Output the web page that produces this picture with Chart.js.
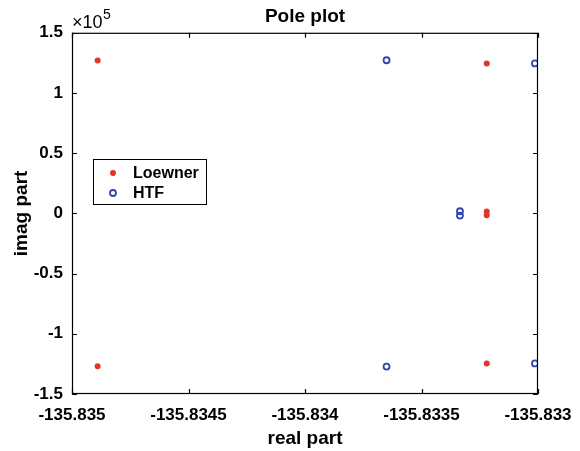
<!DOCTYPE html>
<html lang="en">
<head>
  <meta charset="UTF-8">
  <title>Pole plot</title>
  <script src="https://cdn.jsdelivr.net/npm/chart.js"></script>
  <style>
    body { margin: 0; background: #fff; }
    #wrap { width: 580px; height: 451px; }
  </style>
</head>
<body>
  <div id="wrap"><canvas id="poleChart" width="580" height="451"></canvas></div>
  <script>
    // pole locations
    const loewnerReal = [-135.83489, -135.83489, -135.83322, -135.83322, -135.83322, -135.83322];
    const loewnerImag = [126900, -126900, 124600, -124600, 1600, -1600];
    const htfReal = [-135.83365, -135.83365, -135.833013, -135.833013, -135.833335, -135.833335];
    const htfImag = [127200, -127200, 124600, -124600, 1800, -1800];

    const xTickVals = [-135.835, -135.8345, -135.834, -135.8335, -135.833];
    const xTickLabels = ['-135.835', '-135.8345', '-135.834', '-135.8335', '-135.833'];
    const yTickVals = [150000, 100000, 50000, 0, -50000, -100000, -150000];
    const yTickLabels = ['1.5', '1', '0.5', '0', '-0.5', '-1', '-1.5'];

    const RED = '#e2342b';
    const BLUE = '#2f45b0';
    const FONT = 'Liberation Sans, Arial, sans-serif';

    const toPoints = (xs, ys) => xs.map((x, i) => ({ x: x, y: ys[i] }));

    // box, inward ticks, exponent label and legend, MATLAB style
    const matlabFrame = {
      id: 'matlabFrame',
      afterDraw(chart) {
        const c = chart.ctx;
        const a = chart.chartArea;
        const xs = chart.scales.x, ys = chart.scales.y;
        c.save();
        c.strokeStyle = '#000';
        c.lineWidth = 1.2;
        c.strokeRect(a.left + 0.5, a.top + 0.5, a.right - a.left - 1, a.bottom - a.top - 1);
        c.beginPath();
        xTickVals.forEach(v => {
          const px = Math.round(xs.getPixelForValue(v)) + 0.5;
          c.moveTo(px, a.bottom); c.lineTo(px, a.bottom - 5);
          c.moveTo(px, a.top); c.lineTo(px, a.top + 5);
        });
        yTickVals.forEach(v => {
          const py = Math.round(ys.getPixelForValue(v)) + 0.5;
          c.moveTo(a.left, py); c.lineTo(a.left + 5, py);
          c.moveTo(a.right, py); c.lineTo(a.right - 5, py);
        });
        c.stroke();

        // x10^5
        c.fillStyle = '#000';
        c.textBaseline = 'alphabetic';
        c.textAlign = 'left';
        c.font = '18px ' + FONT;
        c.fillText('\u00d710', a.left, 28);
        c.font = '14px ' + FONT;
        c.fillText('5', a.left + 31, 19);

        // legend
        const lx = 93, ly = 159, lw = 113, lh = 45;
        c.fillStyle = '#fff';
        c.fillRect(lx, ly, lw, lh);
        c.lineWidth = 1;
        c.strokeRect(lx + 0.5, ly + 0.5, lw, lh);
        const rows = [
          { label: chart.data.datasets[0].label, y: ly + 14 },
          { label: chart.data.datasets[1].label, y: ly + 34 }
        ];
        c.fillStyle = RED;
        c.beginPath(); c.arc(113, rows[0].y, 3, 0, Math.PI * 2); c.fill();
        c.strokeStyle = BLUE; c.lineWidth = 1.8;
        c.beginPath(); c.arc(113, rows[1].y, 3, 0, Math.PI * 2); c.stroke();
        c.fillStyle = '#000';
        c.font = 'bold 16px ' + FONT;
        c.textBaseline = 'middle';
        rows.forEach(r => c.fillText(r.label, 133, r.y + 1));
        c.restore();
      }
    };

    new Chart(document.getElementById('poleChart'), {
      type: 'scatter',
      data: {
        datasets: [
          {
            label: 'Loewner',
            data: toPoints(loewnerReal, loewnerImag),
            pointStyle: 'circle',
            pointRadius: 3,
            backgroundColor: RED,
            borderColor: RED,
            borderWidth: 0
          },
          {
            label: 'HTF',
            data: toPoints(htfReal, htfImag),
            pointStyle: 'circle',
            pointRadius: 3,
            backgroundColor: 'rgba(0,0,0,0)',
            borderColor: BLUE,
            borderWidth: 1.8
          }
        ]
      },
      options: {
        responsive: false,
        animation: false,
        layout: { padding: { left: 0, right: 42, top: 0, bottom: 0 } },
        plugins: {
          legend: { display: false },
          tooltip: { enabled: false },
          title: {
            display: true,
            fullSize: false,
            text: 'Pole plot',
            color: '#000',
            font: { family: FONT, size: 19, weight: 'bold' },
            padding: { top: 5, bottom: 5 }
          }
        },
        scales: {
          x: {
            type: 'linear',
            min: -135.835,
            max: -135.833,
            afterFit: s => { s.height = 57; s.paddingLeft = 0; s.paddingRight = 0; },
            afterBuildTicks: s => { s.ticks = xTickVals.map(v => ({ value: v })); },
            grid: { display: false, drawTicks: false },
            border: { display: false },
            ticks: {
              color: '#000',
              padding: 11,
              maxRotation: 0,
              autoSkip: false,
              font: { family: FONT, size: 17, weight: 'bold' },
              callback: (v, i) => xTickLabels[i]
            },
            title: {
              display: true,
              text: 'real part',
              color: '#000',
              font: { family: FONT, size: 19, weight: 'bold' },
              padding: { top: 0, bottom: 1 }
            }
          },
          y: {
            type: 'linear',
            min: -150000,
            max: 150000,
            afterFit: s => { s.width = 72; },
            afterBuildTicks: s => { s.ticks = yTickVals.map(v => ({ value: v })); },
            grid: { display: false, drawTicks: false },
            border: { display: false },
            ticks: {
              color: '#000',
              padding: 9,
              autoSkip: false,
              font: { family: FONT, size: 17, weight: 'bold' },
              callback: (v, i) => yTickLabels[i]
            },
            title: {
              display: true,
              text: 'imag part',
              color: '#000',
              font: { family: FONT, size: 19, weight: 'bold' },
              padding: { top: 10, bottom: 0 }
            }
          }
        }
      },
      plugins: [matlabFrame]
    });
  </script>
</body>
</html>
